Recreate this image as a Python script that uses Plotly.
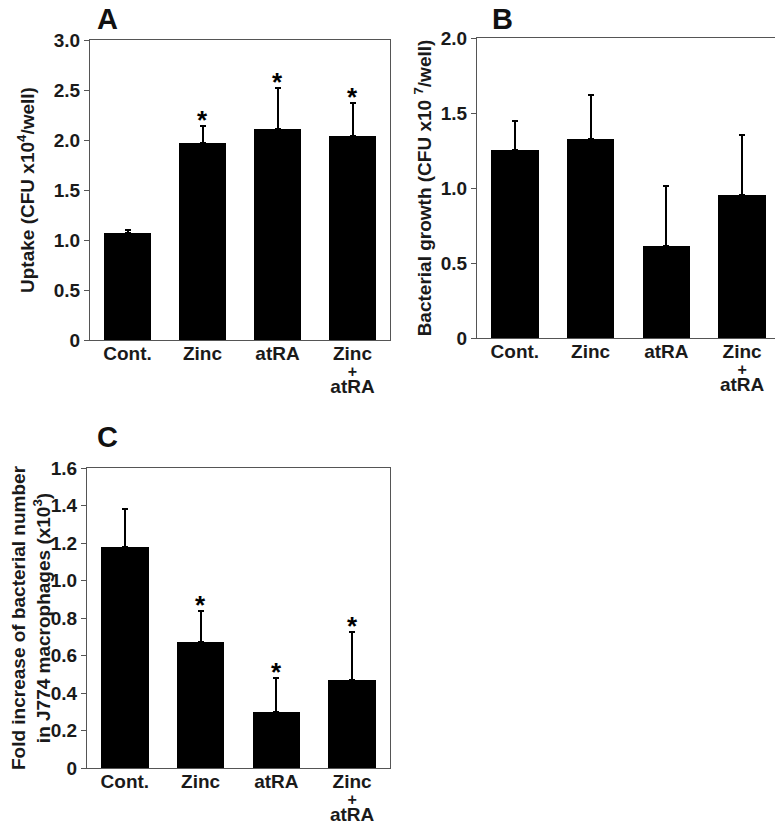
import plotly.graph_objects as go

# groups on the x axis
categories = ["Cont.", "Zinc", "atRA", "Zinc + atRA"]
tick_labels = ["Cont.", "Zinc", "atRA", "Zinc<br>+<br>atRA"]

# A: uptake (CFU x10^4/well)
uptake = [1.07, 1.97, 2.11, 2.04]
uptake_err = [0.03, 0.17, 0.41, 0.33]
uptake_sig = ["", "*", "*", "*"]

# B: bacterial growth (CFU x10^7/well)
growth = [1.255, 1.325, 0.615, 0.955]
growth_err = [0.195, 0.295, 0.40, 0.40]
growth_sig = ["", "", "", ""]

# C: fold increase in J774 macrophages (x10^3)
fold = [1.18, 0.67, 0.297, 0.47]
fold_err = [0.20, 0.17, 0.183, 0.253]
fold_sig = ["", "*", "*", "*"]

FONT = "Liberation Sans, Arial, Helvetica, sans-serif"
W, H = 783, 824
OFF = 8  # page body margin
FW, FH = W - OFF, H - OFF

fig = go.Figure()


def add_panel(fig, vals, errs, sig, xa, ya):
    fig.add_trace(go.Bar(
        x=categories, y=vals, width=0.63,
        marker=dict(color="black", line=dict(width=0)),
        error_y=dict(type="data", symmetric=False, array=errs,
                     arrayminus=[0] * len(errs),
                     color="black", thickness=2, width=3),
        xaxis=xa, yaxis=ya, showlegend=False))
    # significance stars just above the error caps
    for c, v, e, s in zip(categories, vals, errs, sig):
        if s:
            fig.add_annotation(x=c, y=v + e, xref=xa, yref=ya, text=s,
                               showarrow=False, yanchor="middle", yshift=6,
                               font=dict(family=FONT, size=26, color="black", weight="bold"))


add_panel(fig, uptake, uptake_err, uptake_sig, "x", "y")
add_panel(fig, growth, growth_err, growth_sig, "x2", "y2")
add_panel(fig, fold, fold_err, fold_sig, "x3", "y3")

# tick text: small base font so the stacked lines sit close together
big = "<span style='font-size:19px'>%s</span>"
tick_text = [big % t for t in tick_labels[:3]]
tick_text.append(big % "Zinc" + "<br><span style='font-size:16px'>+</span><br>" + big % "atRA")

axis_common = dict(showline=True, linecolor="#555", linewidth=1, mirror=True,
                   showgrid=False, zeroline=False, automargin=False)


def xaxis(domain, anchor):
    return dict(domain=domain, anchor=anchor, range=[-0.5, 3.5],
                tickmode="array", tickvals=categories, ticktext=tick_text,
                ticks="", ticklabelstandoff=3,
                tickfont=dict(family=FONT, size=13, color="#1a1a1a", weight="bold"),
                **axis_common)


def yaxis(domain, anchor, rng, dtick, title, standoff):
    tv = []
    v = 0.0
    while v <= rng[1] + 1e-9:
        tv.append(round(v, 2))
        v += dtick
    tt = ["0" if t == 0 else "%.1f" % t for t in tv]
    return dict(domain=domain, anchor=anchor, range=rng,
                tickmode="array", tickvals=tv, ticktext=tt,
                ticks="outside", ticklen=5, tickcolor="#555",
                tickfont=dict(family=FONT, size=19, color="#1a1a1a", weight="bold"),
                title=dict(text=title, standoff=standoff,
                           font=dict(family=FONT, size=19, color="#1a1a1a", weight="bold")),
                **axis_common)


def px_x(a, b):
    return [(a - OFF) / FW, (b - OFF) / FW]


def px_y(top, bottom):
    return [1 - (bottom - OFF) / FH, 1 - (top - OFF) / FH]


fig.update_layout(
    width=FW, height=FH,
    margin=dict(l=0, r=0, t=0, b=0),
    paper_bgcolor="white", plot_bgcolor="white",
    bargap=0,
    xaxis=xaxis(px_x(90, 390), "y"),
    yaxis=yaxis(px_y(40, 340), "x", [0, 3.0], 0.5,
                "Uptake (CFU x10<sup>4</sup>/well)", 14),
    xaxis2=xaxis(px_x(477, 780), "y2"),
    yaxis2=yaxis(px_y(38, 338), "x2", [0, 2.0], 0.5,
                 "Bacterial growth (CFU x10 <sup>7</sup>/well)", 4),
    xaxis3=xaxis(px_x(87, 390), "y3"),
    yaxis3=yaxis(px_y(468, 768), "x3", [0, 1.6], 0.2,
                 "Fold increase of bacterial number<br>in J774 macrophages (x10<sup>3</sup>)", 17),
)

# panel letters
for letter, x, y in [("A", 107, 19), ("B", 502, 19), ("C", 107, 437)]:
    fig.add_annotation(text=letter, x=(x - OFF) / FW, y=1 - (y - OFF) / FH,
                       xref="paper", yref="paper",
                       showarrow=False, xanchor="center", yanchor="middle",
                       font=dict(family=FONT, size=29, color="#111", weight="bold"))

fig.write_html("out.html")
